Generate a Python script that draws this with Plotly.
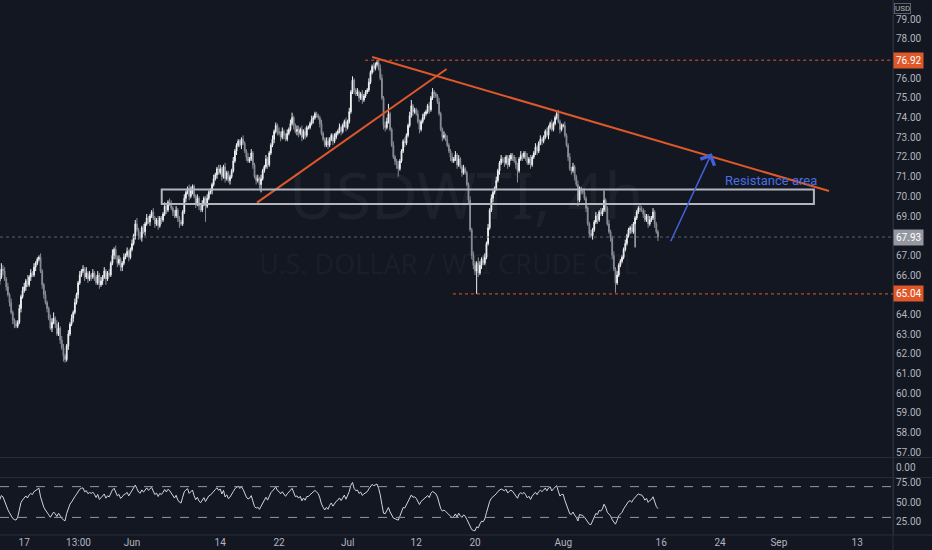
import numpy as np
import pandas as pd
import plotly.graph_objects as go
from plotly.subplots import make_subplots

# USDWTI 4h candles, one line per trading day (00,04,08,12,16,20 h)
first_open = 65.7
closes = [
    65.9, 66.3, 66.2,                      # May 12 (from 12h)
    65.8, 65.4, 65.0, 64.6, 64.1, 63.7,    # May 13
    63.5, 63.4, 63.6, 64.3, 64.9, 65.2,    # May 14
    65.4, 65.7, 65.5, 65.9, 66.1, 66.0,    # May 17
    66.4, 66.6, 66.8, 66.9, 66.2, 65.5,    # May 18
    65.0, 64.6, 64.3, 63.8, 63.3, 63.6,    # May 19
    63.8, 63.5, 63.0, 63.3, 62.7, 62.3,    # May 20
    61.9, 61.7, 62.4, 63.0, 63.5, 63.8,    # May 21
    64.1, 64.6, 65.0, 65.6, 66.0, 66.2,    # May 24
    66.3, 65.9, 66.1, 65.8, 66.0, 65.9,    # May 25
    66.1, 65.9, 65.6, 66.0, 65.5, 65.7,    # May 26
    65.9, 66.2, 65.8, 66.1, 66.0, 66.6,    # May 27
    67.0, 67.3, 66.9, 66.6, 66.8, 66.4,    # May 28
    66.6, 66.9, 67.0, 67.2, 66.9, 67.3,    # May 31
    67.6, 68.0, 68.6, 68.3, 68.0, 67.9,    # Jun 1
    68.4, 68.2, 68.6, 68.9, 68.7, 69.0,    # Jun 2
    69.2, 68.9, 68.6, 68.8, 68.5, 68.9,    # Jun 3
    68.8, 69.1, 69.5, 69.3, 69.7, 69.6,    # Jun 4
    69.4, 69.2, 69.0, 69.3, 68.9, 68.7,    # Jun 7
    68.6, 69.2, 69.9, 70.2, 70.4, 70.0,    # Jun 8
    70.3, 70.5, 70.0, 69.6, 69.9, 69.5,    # Jun 9
    69.3, 69.6, 69.9, 69.5, 69.9, 70.2,    # Jun 10
    70.3, 70.6, 70.9, 71.1, 71.4, 71.2,    # Jun 11
    71.4, 71.0, 71.5, 70.9, 71.2, 70.8,    # Jun 14
    71.0, 71.3, 71.8, 72.3, 72.6, 72.8,    # Jun 15
    72.6, 72.9, 72.7, 72.3, 72.0, 71.8,    # Jun 16
    71.9, 72.2, 71.6, 71.0, 70.8, 70.9,    # Jun 17
    70.6, 70.9, 71.3, 71.5, 71.9, 71.6,    # Jun 18
    72.2, 72.6, 72.9, 73.3, 73.6, 73.3,    # Jun 21
    73.2, 73.0, 73.3, 73.1, 72.9, 73.2,    # Jun 22
    73.4, 73.7, 74.0, 73.6, 73.3, 73.4,    # Jun 23
    73.2, 73.4, 73.0, 73.3, 73.1, 73.5,    # Jun 24
    73.5, 73.7, 73.9, 74.0, 74.2, 74.1,    # Jun 25
    74.0, 73.7, 73.2, 72.9, 72.6, 72.8,    # Jun 28
    72.6, 72.9, 73.1, 72.8, 73.0, 73.2,    # Jun 29
    73.3, 73.5, 73.3, 73.6, 73.8, 73.5,    # Jun 30
    73.8, 74.3, 75.3, 75.9, 75.4, 75.2,    # Jul 1
    75.3, 75.0, 75.2, 74.9, 75.1, 75.3,    # Jul 2
    75.4, 75.8, 76.3, 76.6, 76.5, 76.7,    # Jul 5
    76.8, 76.5, 76.0, 75.0, 73.6, 73.5,    # Jul 6
    73.8, 74.2, 73.4, 72.6, 72.0, 71.8,    # Jul 7
    71.6, 71.4, 71.8, 72.3, 72.8, 72.7,    # Jul 8
    73.1, 73.6, 74.1, 74.6, 74.3, 74.4,    # Jul 9
    74.2, 73.8, 73.4, 73.8, 74.0, 74.2,    # Jul 12
    74.3, 74.6, 74.4, 75.0, 75.3, 75.2,    # Jul 13
    75.1, 74.8, 74.2, 73.4, 73.0, 73.1,    # Jul 14
    72.9, 72.6, 72.3, 72.0, 71.8, 71.9,    # Jul 15
    72.1, 71.6, 71.9, 71.5, 71.2, 71.4,    # Jul 16
    71.2, 70.6, 69.8, 68.3, 67.0, 66.5,    # Jul 19
    66.2, 66.6, 66.1, 66.5, 66.8, 66.6,    # Jul 20
    66.9, 67.6, 68.4, 69.3, 69.9, 70.2,    # Jul 21
    70.4, 70.8, 71.3, 71.7, 71.9, 71.8,    # Jul 22
    71.7, 72.0, 71.6, 71.9, 72.1, 72.0,    # Jul 23
    71.8, 71.6, 71.3, 71.9, 72.1, 72.0,    # Jul 26
    72.2, 72.0, 71.7, 71.9, 71.6, 72.0,    # Jul 27
    72.2, 72.5, 72.3, 72.7, 72.9, 72.8,    # Jul 28
    73.0, 73.3, 73.1, 73.5, 73.7, 73.4,    # Jul 29
    73.7, 74.0, 74.2, 73.8, 73.4, 73.6,    # Jul 30
    73.6, 73.1, 72.6, 72.0, 71.4, 71.3,    # Aug 2
    71.5, 71.0, 70.6, 69.8, 70.4, 70.3,    # Aug 3
    70.2, 69.9, 69.4, 68.6, 68.1, 68.0,    # Aug 4
    68.3, 68.7, 69.0, 68.8, 69.2, 69.1,    # Aug 5
    69.3, 69.8, 69.4, 68.6, 68.2, 67.9,    # Aug 6
    67.0, 66.3, 65.6, 66.0, 66.5, 66.7,    # Aug 9
    66.9, 67.3, 67.6, 68.0, 68.3, 68.4,    # Aug 10
    68.2, 68.6, 68.9, 69.2, 69.4, 69.3,    # Aug 11
    69.3, 69.1, 68.8, 69.0, 68.6, 68.8,    # Aug 12
    68.9, 69.2, 68.6, 68.2, 67.93,         # Aug 13 (to 16h)
]

# wick length above max(open, close)
wick_hi = [
    .2,.3,.2,
    .2,.1,.2,.1,.2,.1,  .1,.2,.1,.2,.1,.2,  .2,.1,.3,.1,.2,.1,
    .2,.1,.1,.1,.2,.1,  .1,.2,.1,.1,.2,.2,  .3,.1,.2,.3,.1,.2,
    .2,.1,.1,.2,.1,.2,  .1,.2,.1,.1,.2,.1,  .2,.1,.3,.1,.2,.1,
    .2,.1,.1,.2,.1,.2,  .1,.2,.1,.1,.2,.1,  .3,.1,.2,.1,.2,.1,
    .1,.2,.1,.2,.1,.1,  .2,.1,.2,.3,.1,.2,  .1,.2,.1,.2,.1,.1,
    .1,.2,.1,.1,.2,.1,  .1,.1,.2,.1,.1,.2,  .2,.1,.1,.2,.1,.1,
    .1,.1,.2,.1,.1,.2,  .2,.1,.1,.1,.2,.1,  .1,.2,.1,.1,.2,.1,
    .1,.1,.2,.1,.1,.2,  .2,.1,.1,.2,.1,.1,  .1,.1,.2,.1,.1,.1,
    .1,.1,.2,.1,.1,.2,  .1,.2,.1,.1,.1,.2,  .1,.2,.1,.1,.2,.1,
    .1,.1,.2,.1,.15,.1, .2,.1,.2,.1,.1,.2,  .1,.2,.25,.1,.1,.2,
    .2,.1,.2,.1,.2,.1,  .1,.1,.2,.1,.1,.1,  .1,.1,.2,.1,.1,.2,
    .2,.1,.1,.1,.2,.1,  .1,.2,.1,.1,.1,.2,  .1,.2,.1,.2,.1,.1,
    .2,.1,.1,.2,.1,.1,  .1,.2,.1,.1,.2,.1,  .12,.1,.2,.2,.1,.2,
    .2,.5,.1,.1,.2,.1,  .1,.2,.1,.1,.1,.2,  .1,.1,.2,.3,.1,.1,
    .1,.2,.1,.1,.2,.1,  .1,.1,.2,.1,.2,.1,  .1,.1,.2,.1,.1,.2,
    .1,.2,.1,.1,.2,.1,  .2,.1,.2,.1,.1,.2,  .1,.1,.1,.2,.1,.2,
    .2,.1,.3,.2,.1,.2,  .2,.1,.2,.1,.2,.1,  .1,.2,.1,.1,.2,.1,
    .2,.1,.1,.2,.1,.1,  .1,.2,.1,.1,.2,.1,  .1,.1,.2,.1,.2,.1,
    .1,.2,.1,.1,.2,.1,  .1,.1,.2,.1,.1,.2,  .1,.1,.15,.2,.1,.1,
    .1,.2,.1,.1,.2,.1,  .2,.1,.1,.2,.1,.1,  .1,.2,.1,.1,.1,.2,
    .1,.1,.2,.1,.1,.2,  .1,.5,.1,.1,.2,.1,  .1,.2,.1,.2,.1,.1,
    .1,.1,.2,.1,.1,.1,  .2,.1,.1,.1,.1,.2,  .2,.1,.2,.1,.1,.2,
    .1,.2,.1,.1,.1,
]

# wick length below min(open, close)
wick_lo = [
    .2,.1,.2,
    .1,.2,.1,.2,.1,.2,  .2,.1,.1,.1,.2,.1,  .1,.2,.1,.1,.2,.1,
    .1,.2,.1,.1,.1,.2,  .2,.1,.2,.1,.1,.2,  .1,.2,.1,.1,.2,.1,
    .3,.15,.1,.2,.1,.1, .2,.1,.1,.2,.1,.1,  .1,.2,.1,.2,.1,.2,
    .1,.2,.1,.1,.2,.1,  .2,.1,.3,.1,.1,.1,  .1,.2,.1,.2,.1,.2,
    .2,.1,.1,.1,.2,.1,  .1,.1,.2,.1,.2,.1,  .2,.1,.2,.1,.1,.2,
    .1,.1,.2,.1,.2,.1,  .2,.1,.1,.2,.1,.1,  .1,.2,.1,.1,.2,.3,
    .1,.1,.1,.2,.1,.2,  .1,.2,.1,.2,.1,.2,  .1,.1,.1,.8,.1,.1,
    .1,.2,.1,.1,.2,.1,  .1,.2,.1,.2,.1,.1,  .2,.1,.1,.1,.2,.1,
    .1,.2,.1,.1,.2,.1,  .1,.1,.2,.1,.2,.1,  .2,.4,.1,.1,.1,.2,
    .1,.1,.1,.2,.1,.2,  .1,.2,.1,.2,.1,.1,  .1,.1,.1,.2,.1,.2,
    .2,.1,.2,.1,.2,.1,  .1,.1,.1,.2,.1,.1,  .1,.2,.1,.1,.1,.1,
    .2,.1,.1,.2,.1,.1,  .1,.1,.2,.1,.1,.2,  .1,.1,.1,.1,.2,.1,
    .1,.2,.1,.2,.1,.1,  .1,.1,.1,.1,.2,.1,  .1,.1,.1,.1,.2,.2,
    .1,.1,.1,.1,.1,.2,  .2,.4,.1,.1,.1,.2,  .1,.1,.1,.1,.2,.1,
    .1,.1,.2,.1,.1,.1,  .1,.1,.2,.1,.1,.2,  .1,.1,.1,.1,.2,.1,
    .1,.1,.1,.2,.1,.1,  .1,.2,.1,.1,.2,.1,  .1,.1,.2,.1,.2,.2,
    .2,1.16,.2,.1,.2,.1, .1,.1,.1,.1,.1,.2, .1,.1,.1,.2,.1,.1,
    .2,.1,.2,.1,.1,.2,  .1,.2,.6,.1,.1,.2,  .1,.2,.1,.1,.2,.1,
    .1,.1,.2,.1,.1,.2,  .1,.1,.1,.2,.1,.1,  .1,.1,.1,.1,.2,.1,
    .1,.1,.1,.2,.1,.2,  .1,.2,.1,.3,.1,.2,  .1,.1,.2,.1,.2,.1,
    .2,.1,.1,.2,.1,.1,  .1,.1,.2,.1,.1,.2,  .2,.1,.5,.1,.1,.1,
    .1,.1,.1,.1,.1,.2,  .1,.1,1.2,.1,.1,.1, .1,.2,.1,.1,.2,.1,
    .1,.1,.2,.1,.2,
]

tick_dates = ["2021-05-17", "2021-05-24 13:00", "2021-06-01", "2021-06-14", "2021-06-22",
              "2021-07-01", "2021-07-12", "2021-07-20", "2021-08-02", "2021-08-16",
              "2021-08-24", "2021-09-01", "2021-09-13"]
tick_text = ["17", "13:00", "Jun", "14", "22", "Jul", "12", "20", "Aug", "16", "24", "Sep", "13"]

# 65, 68 and 77 sit under the price labels, so they are not printed
price_ticks = [57, 58, 59, 60, 61, 62, 63, 64, 66, 67, 69, 70, 71, 72, 73, 74, 75, 76, 78, 79]
rsi_ticks = [25, 50, 75]
empty_pane_value = 0.0

last_price = 67.93
swing_high = 76.92
swing_low = 65.04

BG = "#131722"
TXT = "#b2b5be"
ORANGE = "#e0582a"
BLUE = "#4361d8"
SEP = "#2a2e39"

# ---- derived series
stamps = pd.date_range("2021-05-12 12:00", "2021-08-13 16:00", freq="4h")
stamps = stamps[stamps.dayofweek < 5]
assert len(stamps) == len(closes) == len(wick_hi) == len(wick_lo)

opens = [first_open] + closes[:-1]
highs = [max(o, c) + w for o, c, w in zip(opens, closes, wick_hi)]
lows = [min(o, c) - w for o, c, w in zip(opens, closes, wick_lo)]

# RSI(14), Wilder smoothing, seeded with an even average move (history before the window)
avg_up, avg_dn = 0.12, 0.12
rsi = []
prev = first_open
for c in closes:
    d = c - prev
    avg_up = (avg_up * 13 + max(d, 0)) / 14
    avg_dn = (avg_dn * 13 + max(-d, 0)) / 14
    rsi.append(100 - 100 / (1 + avg_up / avg_dn))
    prev = c

x_range = ["2021-05-12 12:40", "2021-09-16 15:40"]

fig = make_subplots(rows=3, cols=1, shared_xaxes=True, vertical_spacing=0)

fig.add_trace(go.Candlestick(
    x=stamps, open=opens, high=highs, low=lows, close=closes,
    increasing=dict(line=dict(color="#f0f1f4", width=1), fillcolor="#f0f1f4"),
    decreasing=dict(line=dict(color="#8a8d96", width=1), fillcolor="#8a8d96"),
    whiskerwidth=0,
), row=1, col=1)

# empty indicator pane (flat zero, not drawn)
fig.add_trace(go.Scatter(x=[stamps[0], stamps[-1]], y=[empty_pane_value] * 2, mode="lines",
                         line=dict(color="rgba(0,0,0,0)", width=1)), row=2, col=1)

fig.add_trace(go.Scatter(x=stamps, y=rsi, mode="lines",
                         line=dict(color="#d1d4dc", width=1)), row=3, col=1)

fig.update_xaxes(
    rangebreaks=[dict(bounds=["sat", "mon"])],
    range=x_range, showgrid=False, zeroline=False, showline=False,
    rangeslider_visible=False, ticks="",
    tickvals=tick_dates, ticktext=tick_text,
    tickfont=dict(color=TXT, size=10, family="Roboto"),
)

axis_style = dict(side="right", showgrid=False, zeroline=False, showline=True,
                  linecolor=SEP, linewidth=1, ticks="",
                  tickfont=dict(color=TXT, size=10, family="Roboto"))

fig.update_layout(
    yaxis=dict(domain=[0.1458, 1], range=[56.75, 79.98],
               tickvals=price_ticks, ticktext=[f"{p:.2f}" for p in price_ticks], **axis_style),
    yaxis2=dict(domain=[0.1084, 0.1439], range=[-1, 1],
                tickvals=[empty_pane_value], ticktext=[f"{empty_pane_value:.2f}"], **axis_style),
    yaxis3=dict(domain=[0, 0.1065], range=[7.1, 81.2],
                tickvals=rsi_ticks, ticktext=[f"{r:.2f}" for r in rsi_ticks], **axis_style),
)

shapes = []
# pane separators
for yp in [0.1449, 0.1075, 0.0]:
    shapes.append(dict(type="line", xref="paper", yref="paper", x0=0, x1=1.05,
                       y0=yp, y1=yp, line=dict(color=SEP, width=1)))
shapes.append(dict(type="line", xref="paper", yref="paper", x0=1, x1=1, y0=-0.03, y1=1,
                   line=dict(color=SEP, width=1)))
# RSI bands
for lvl in [70, 30]:
    shapes.append(dict(type="line", xref="paper", yref="y3", x0=0, x1=1, y0=lvl, y1=lvl,
                       line=dict(color="#9598a1", width=1, dash="dash")))
# last price line
shapes.append(dict(type="line", xref="paper", yref="y", x0=0, x1=1, y0=last_price, y1=last_price,
                   line=dict(color="#5d606b", width=1, dash="dot")))
# swing high / low rays
shapes.append(dict(type="line", xref="x", yref="y", x0="2021-07-02 19:00", x1=x_range[1],
                   y0=swing_high, y1=swing_high, line=dict(color=ORANGE, width=1, dash="dot")))
shapes.append(dict(type="line", xref="x", yref="y", x0="2021-07-15 18:00", x1=x_range[1],
                   y0=swing_low, y1=swing_low, line=dict(color=ORANGE, width=1, dash="dot")))
# trend lines
shapes.append(dict(type="line", xref="x", yref="y", x0="2021-07-05 12:00", y0=77.08,
                   x1="2021-09-08 03:00", y1=70.27, line=dict(color=ORANGE, width=2)))
shapes.append(dict(type="line", xref="x", yref="y", x0="2021-06-17 18:00", y0=69.68,
                   x1="2021-07-15 02:30", y1=76.47, line=dict(color=ORANGE, width=2)))
# resistance box
shapes.append(dict(type="rect", xref="x", yref="y", x0="2021-06-04 00:45", x1="2021-09-06 14:00",
                   y0=69.61, y1=70.35, line=dict(color="#b2b5be", width=2)))

annotations = [
    dict(text="USDWTI, 4h", xref="paper", yref="paper", x=0.522, y=0.636,
         showarrow=False, font=dict(size=64, color="rgba(255,255,255,0.045)", family="Noto Sans")),
    dict(text="U.S. DOLLAR / WTI CRUDE OIL", xref="paper", yref="paper", x=0.502, y=0.507,
         showarrow=False, font=dict(size=27, color="rgba(255,255,255,0.045)", family="Noto Sans")),
    dict(text="", x="2021-08-23 03:40", y=72.19, ax="2021-08-16 21:36", ay=67.64,
         xref="x", yref="y", axref="x", ayref="y", showarrow=True,
         arrowhead=4, arrowsize=2, arrowwidth=1.5, arrowcolor=BLUE),
    dict(text="Resistance area", x="2021-08-24 08:00", y=70.83, xref="x", yref="y",
         xanchor="left", showarrow=False, font=dict(size=13, color="#4a6ee0", family="Roboto")),
    dict(text="USD", xref="paper", yref="paper", x=1.0202, y=1, yanchor="top", yshift=-3,
         showarrow=False, bordercolor="#5d606b", borderwidth=1, borderpad=0,
         font=dict(size=8, color=TXT, family="Roboto")),
]
for val, bg in [(swing_high, ORANGE), (swing_low, ORANGE), (last_price, "#9598a1")]:
    annotations.append(dict(text=f"{val:.2f}", xref="paper", yref="y", x=1.0, y=val,
                            xanchor="left", showarrow=False, bgcolor=bg, borderpad=2,
                            font=dict(size=10, color="#ffffff", family="Roboto")))

fig.update_layout(
    width=932, height=550,
    margin=dict(l=0, r=39, t=0, b=15),
    paper_bgcolor=BG, plot_bgcolor=BG,
    showlegend=False, hovermode=False,
    shapes=shapes, annotations=annotations,
)

fig.write_html("out.html", config={"displayModeBar": False},
               post_script="document.body.style.margin='0';")
